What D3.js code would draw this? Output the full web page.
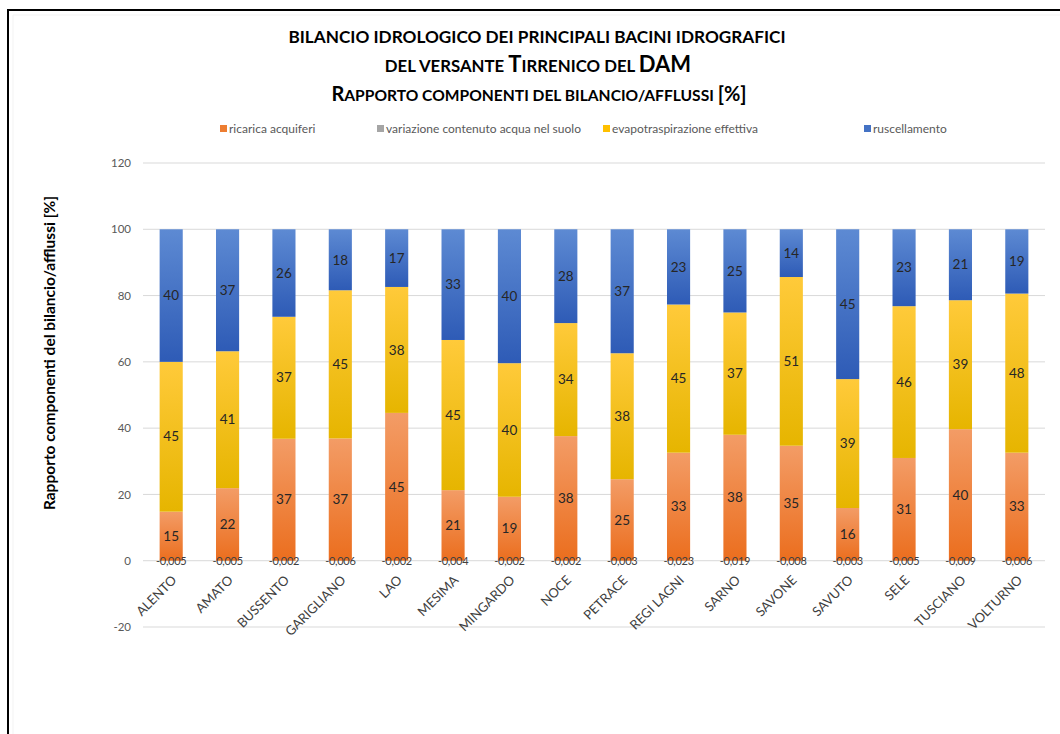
<!DOCTYPE html>
<html>
<head>
<meta charset="utf-8">
<script src="https://cdn.jsdelivr.net/npm/d3@7"></script>
<style>
  body { margin: 0; background: #fff; }
  svg { display: block; font-family: Lato, "Open Sans", sans-serif; }
</style>
</head>
<body>
<div id="chart"></div>
<script>
const categories = ["ALENTO", "AMATO", "BUSSENTO", "GARIGLIANO", "LAO", "MESIMA", "MINGARDO", "NOCE",
  "PETRACE", "REGI LAGNI", "SARNO", "SAVONE", "SAVUTO", "SELE", "TUSCIANO", "VOLTURNO"]
const ricarica = [14.8, 21.9, 36.8, 36.9, 44.6, 21.3, 19.3, 37.6, 24.6, 32.6, 38.0, 34.7, 15.9, 31.0, 39.7, 32.6]
const variazione = [-0.005, -0.005, -0.002, -0.006, -0.002, -0.004, -0.002, -0.002, -0.003, -0.023, -0.019, -0.008, -0.003, -0.005, -0.009, -0.006]
const evapotraspirazione = [45.2, 41.3, 36.8, 44.7, 38.0, 45.3, 40.3, 34.1, 38.0, 44.7, 36.9, 50.9, 38.9, 45.8, 38.9, 48.0]
const ruscellamento = [40.0, 36.8, 26.4, 18.4, 17.4, 33.4, 40.4, 28.3, 37.4, 22.7, 25.1, 14.4, 45.2, 23.2, 21.4, 19.4]
const yTicks = [-20, 0, 20, 40, 60, 80, 100, 120]

const series = [
  { key: "ric", name: "ricarica acquiferi", values: ricarica, top: "#f39c66", bottom: "#eb6e1e", swatch: "#ed7d31" },
  { key: "var", name: "variazione contenuto acqua nel suolo", values: variazione, top: "#bdbdbd", bottom: "#8f8f8f", swatch: "#a5a5a5" },
  { key: "eva", name: "evapotraspirazione effettiva", values: evapotraspirazione, top: "#ffca3a", bottom: "#e6b500", swatch: "#ffc000" },
  { key: "rus", name: "ruscellamento", values: ruscellamento, top: "#5d8ad3", bottom: "#2e5bb6", swatch: "#4472c4" }
]

const rows = categories.map((c, i) => {
  const r = { cat: c }
  series.forEach(s => r[s.key] = s.values[i])
  return r
})

const width = 1060
const height = 734
const margin = { top: 163, right: 15, bottom: 107, left: 143 }

const svg = d3.select("#chart").append("svg")
  .attr("width", width)
  .attr("height", height)

const defs = svg.append("defs")
series.forEach(s => {
  const g = defs.append("linearGradient")
    .attr("id", `grad_${s.key}`)
    .attr("x1", 0).attr("y1", 0).attr("x2", 0).attr("y2", 1)
  g.append("stop").attr("offset", "0%").attr("stop-color", s.top)
  g.append("stop").attr("offset", "100%").attr("stop-color", s.bottom)
})

// frame
svg.append("path")
  .attr("d", `M8,${height} V10 H${width}`)
  .attr("fill", "none")
  .attr("stroke", "#000")
  .attr("stroke-width", 2)
svg.append("path")
  .attr("d", `M13,${height} V15 H${width}`)
  .attr("fill", "none")
  .attr("stroke", "#f3f3f3")
  .attr("stroke-width", 1)

// title
const title = svg.append("g")
  .attr("text-anchor", "middle")
  .attr("font-weight", "bold")
  .attr("fill", "#000")
title.append("text")
  .attr("x", 537).attr("y", 43)
  .attr("font-size", 17.2)
  .text("BILANCIO IDROLOGICO DEI PRINCIPALI BACINI IDROGRAFICI")
const line2 = title.append("text").attr("x", 538).attr("y", 72).attr("font-size", 16.8)
line2.append("tspan").text("DEL VERSANTE ")
line2.append("tspan").attr("font-size", 22).text("T")
line2.append("tspan").text("IRRENICO DEL ")
line2.append("tspan").attr("font-size", 22).text("DAM")
const line3 = title.append("text").attr("x", 539).attr("y", 101).attr("font-size", 15.6)
line3.append("tspan").attr("font-size", 20).text("R")
line3.append("tspan").text("APPORTO COMPONENTI DEL BILANCIO/AFFLUSSI ")
line3.append("tspan").attr("font-size", 20).text("[%]")

// legend
const legendPos = [221, 378, 604, 865]
const legend = svg.append("g").attr("font-size", 12).attr("fill", "#595959")
series.forEach((s, i) => {
  const g = legend.append("g").attr("transform", `translate(${legendPos[i]}, 129)`)
  g.append("rect").attr("x", -1).attr("y", -4).attr("width", 7).attr("height", 7).attr("fill", s.swatch)
  g.append("text").attr("x", 8).attr("y", 0).attr("dy", "0.35em").text(s.name)
})

const x = d3.scaleBand()
  .domain(categories)
  .range([margin.left, width - margin.right])
  .paddingInner(0.59)
  .paddingOuter(0.295)

const y = d3.scaleLinear()
  .domain([-20, 120])
  .range([height - margin.bottom, margin.top])

// grid + y labels
svg.append("g")
  .selectAll("line")
  .data(yTicks)
  .join("line")
  .attr("x1", margin.left)
  .attr("x2", width - margin.right)
  .attr("y1", d => y(d))
  .attr("y2", d => y(d))
  .attr("stroke", "#d9d9d9")
  .attr("stroke-width", 1)

svg.append("g")
  .attr("transform", `translate(${margin.left}, 0)`)
  .call(d3.axisLeft(y).tickValues(yTicks).tickSize(0).tickPadding(12).tickFormat(d => String(d)))
  .call(g => g.select(".domain").remove())
  .call(g => g.selectAll("text")
    .attr("font-family", "Lato, 'Open Sans', sans-serif")
    .attr("font-size", 11.5)
    .attr("fill", "#595959"))

svg.append("text")
  .attr("transform", `translate(55, 353) rotate(-90)`)
  .attr("text-anchor", "middle")
  .attr("font-weight", "bold")
  .attr("font-size", 15.5)
  .attr("fill", "#000")
  .text("Rapporto componenti del bilancio/afflussi [%]")

// stacked bars
const stack = d3.stack()
  .keys(series.map(s => s.key))
  .offset(d3.stackOffsetDiverging)
const stacked = stack(rows)

const layers = svg.append("g")
  .selectAll("g")
  .data(stacked)
  .join("g")
  .attr("fill", d => `url(#grad_${d.key})`)

layers.selectAll("rect")
  .data(d => d)
  .join("rect")
  .attr("x", d => x(d.data.cat))
  .attr("width", x.bandwidth())
  .attr("y", d => y(Math.max(d[0], d[1])))
  .attr("height", d => Math.abs(y(d[0]) - y(d[1])))

// data labels
const fmtInt = d3.format(".0f")
const fmtSmall = v => v.toFixed(3).replace(".", ",")
const labels = svg.append("g").attr("text-anchor", "middle")

stacked.forEach(layer => {
  const isVar = layer.key === "var"
  labels.append("g")
    .selectAll("text")
    .data(layer)
    .join("text")
    .attr("x", d => x(d.data.cat) + x.bandwidth() / 2)
    .attr("y", d => isVar ? y(0) : y((d[0] + d[1]) / 2))
    .attr("dy", "0.35em")
    .attr("font-size", isVar ? 11 : 13.5)
    .attr("letter-spacing", isVar ? -0.3 : 0)
    .attr("fill", isVar ? "#404040" : "#262626")
    .text(d => isVar ? fmtSmall(d.data[layer.key]) : fmtInt(d.data[layer.key]))
})

// x labels
svg.append("g")
  .selectAll("text")
  .data(categories)
  .join("text")
  .attr("transform", d => `translate(${x(d) + x.bandwidth() / 2 + 3}, ${y(0) + 17}) rotate(-45)`)
  .attr("text-anchor", "end")
  .attr("dy", "0.35em")
  .attr("font-size", 13)
  .attr("fill", "#404040")
  .text(d => d)
</script>
</body>
</html>
